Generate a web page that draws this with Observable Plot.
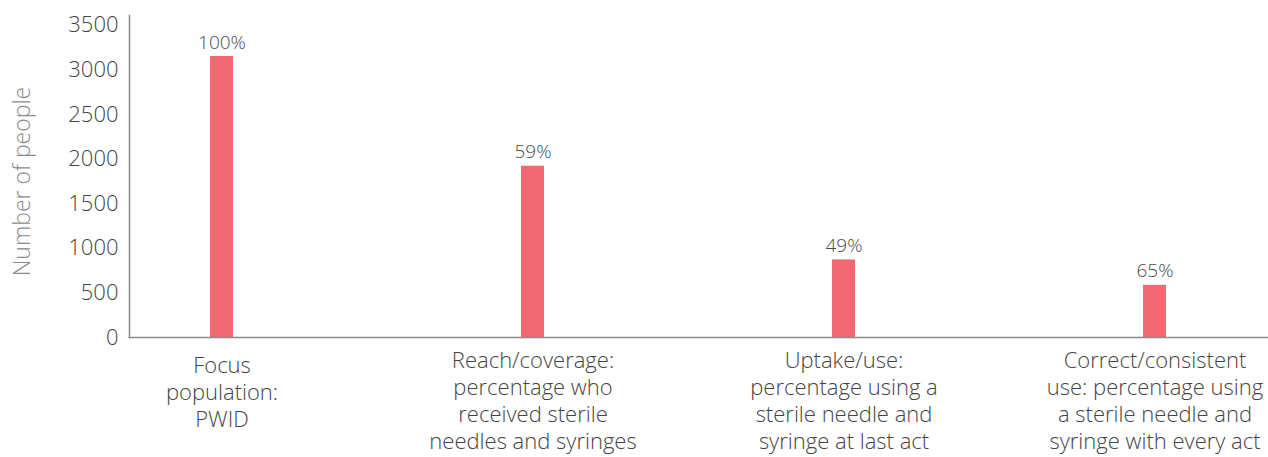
<!DOCTYPE html>
<html>
<head>
<meta charset="utf-8">
<script src="https://cdn.jsdelivr.net/npm/d3@7"></script>
<script src="https://cdn.jsdelivr.net/npm/@observablehq/plot@0.6"></script>
<style>
  html, body { margin: 0; padding: 0; background: #fff; }
  svg { display: block; }
</style>
</head>
<body>
<div id="chart"></div>
<script>
const categories = [
  "Focus population: PWID",
  "Reach/coverage: percentage who received sterile needles and syringes",
  "Uptake/use: percentage using a sterile needle and syringe at last act",
  "Correct/consistent use: percentage using a sterile needle and syringe with every act"
];
const tickLabels = [
  "Focus\npopulation:\nPWID",
  "Reach/coverage:\npercentage who\nreceived sterile\nneedles and syringes",
  "Uptake/use:\npercentage using a\nsterile needle and\nsyringe at last act",
  "Correct/consistent\nuse: percentage using\na sterile needle and\nsyringe with every act"
];
const counts = [3150, 1920, 870, 585];
const percents = ["100%", "59%", "49%", "65%"];
const yTicks = [0, 500, 1000, 1500, 2000, 2500, 3000, 3500];

const data = categories.map((c, i) => ({category: c, count: counts[i], pct: percents[i]}));
const labelOf = new Map(categories.map((c, i) => [c, tickLabels[i]]));
const threeLine = categories.filter((c, i) => tickLabels[i].split("\n").length === 3);
const fourLine = categories.filter((c, i) => tickLabels[i].split("\n").length !== 3);

const font = "'Open Sans', Lato, sans-serif";

const chart = Plot.plot({
  width: 1268,
  height: 457,
  marginLeft: 129,
  marginRight: 0,
  marginTop: 15,
  marginBottom: 120,
  style: {fontFamily: font, background: "#fff"},
  x: {type: "band", domain: categories, paddingInner: 0.926, paddingOuter: 0.262, insetRight: 20, label: null},
  y: {domain: [0, 3610], label: null},
  marks: [
    Plot.barY(data, {x: "category", y: "count", fill: "#F26973"}),
    Plot.text(data, {x: "category", y: "count", text: "pct", dy: -8, lineAnchor: "bottom", fontSize: 19, fill: "#4a4a4a", fontWeight: 300}),
    Plot.frame({anchor: "left", stroke: "#8a8a8a", strokeWidth: 1.5}),
    Plot.frame({anchor: "bottom", stroke: "#8a8a8a", strokeWidth: 1.5}),
    Plot.axisY(yTicks, {tickSize: 0, tickPadding: 11, fontSize: 22, fill: "#444", fontWeight: 300, tickFormat: d => String(d), label: null}),
    Plot.text(["Number of people"], {frameAnchor: "left", dx: -107, dy: 5, rotate: -90, fontSize: 23, fill: "#8c8c8c", fontWeight: 300, textAnchor: "middle", text: d => d}),
    Plot.axisX(fourLine, {tickSize: 0, tickPadding: 11, fontSize: 22, lineHeight: 1.23, fill: "#444", fontWeight: 300, tickFormat: d => labelOf.get(d), label: null}),
    Plot.axisX(threeLine, {tickSize: 0, tickPadding: 16, fontSize: 22, lineHeight: 1.23, fill: "#444", fontWeight: 300, tickFormat: d => labelOf.get(d), label: null})
  ]
});
document.getElementById("chart").appendChild(chart);
</script>
</body>
</html>
